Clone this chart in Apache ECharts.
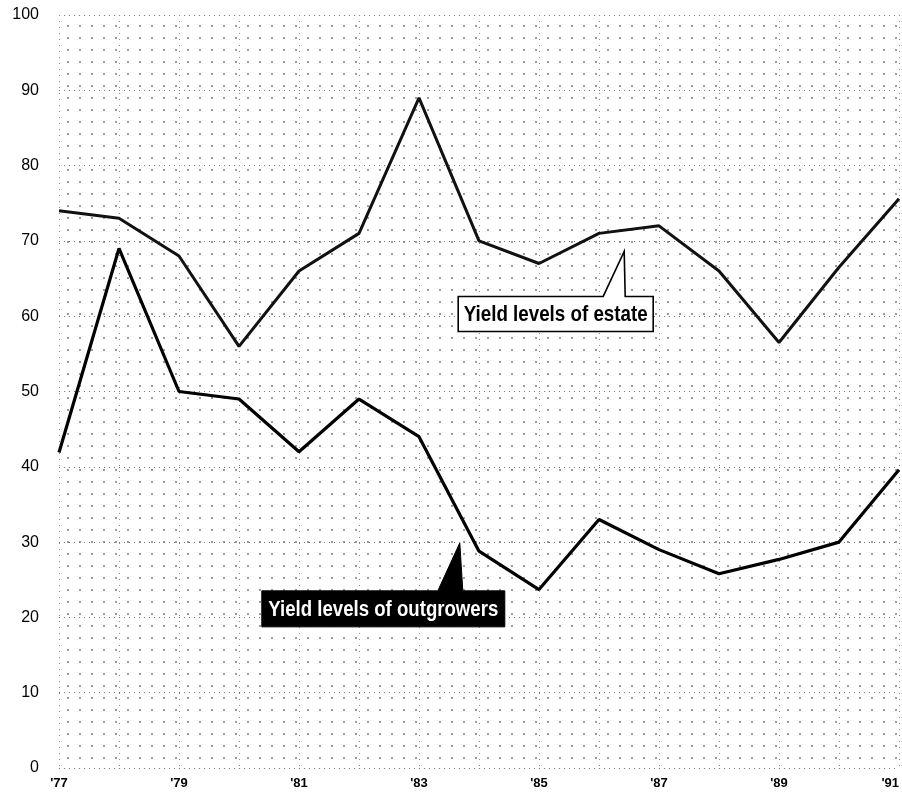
<!DOCTYPE html>
<html>
<head>
<meta charset="utf-8">
<script src="https://cdn.jsdelivr.net/npm/echarts@6/dist/echarts.min.js"></script>
<style>
  html, body { margin: 0; padding: 0; background: #fff; }
  #wrap { position: relative; width: 902px; height: 795px; }
  #dots {
    position: absolute; left: 59px; top: 15px; width: 840px; height: 753px;
    background-image: radial-gradient(circle, rgba(0,0,0,0.4) 0.7px, transparent 1px);
    background-size: 12px 12px;
    background-position: 3px 5px;
  }
  #chart { position: absolute; left: 0; top: 0; width: 902px; height: 795px; }
</style>
</head>
<body>
<div id="wrap">
  <div id="dots"></div>
  <div id="chart"></div>
</div>
<script>
// Years on the horizontal axis
const years = [1977, 1978, 1979, 1980, 1981, 1982, 1983, 1984, 1985, 1986, 1987, 1988, 1989, 1990, 1991];
// Yield levels (estate vs. outgrowers)
const estate =      [74, 73, 68, 56, 66, 71, 89, 70, 67, 71, 72, 66, 56.5, 66.5, 75.6];
const outgrowers =  [41.9, 69, 50, 49, 42, 49, 44, 28.8, 23.7, 33, 29, 25.8, 27.7, 30, 39.6];
// Y-axis ticks
const yTicks = [0, 10, 20, 30, 40, 50, 60, 70, 80, 90, 100];
// Callout labels and where their pointers touch [year, value]
const estateLabel = 'Yield levels of estate';
const outgrowLabel = 'Yield levels of outgrowers';
const estateTip = [1986.42, 68.6];
const outgrowTip = [1983.68, 29.9];

const axisFont = "'Liberation Sans', Arial, sans-serif";

const chart = echarts.init(document.getElementById('chart'), null, { renderer: 'canvas' });

const pairs = arr => years.map((y, i) => [y, arr[i]]);

chart.setOption({
  animation: false,
  backgroundColor: 'transparent',
  grid: { left: 59, right: 3, top: 15, bottom: 27, containLabel: false, outerBoundsMode: 'none' },
  xAxis: {
    type: 'value',
    min: years[0], max: years[years.length - 1], interval: 1,
    axisLine: { show: false }, axisTick: { show: false },
    splitLine: { show: true, lineStyle: { type: [1, 5], color: '#888', width: 1 } },
    axisLabel: {
      margin: 9, alignMaxLabel: 'right',
      fontFamily: axisFont, fontSize: 13, fontWeight: 'bold', color: '#000',
      formatter: v => ((v - years[0]) % 2 === 0 ? "'" + String(v).slice(2) : '')
    }
  },
  yAxis: {
    type: 'value',
    min: yTicks[0], max: yTicks[yTicks.length - 1], interval: 10,
    axisLine: { show: false }, axisTick: { show: false },
    splitLine: { show: true, lineStyle: { type: [1, 4], color: '#777', width: 1 } },
    axisLabel: {
      margin: 20, fontFamily: axisFont, fontSize: 16, color: '#000',
      formatter: v => (yTicks.includes(v) ? String(v) : '')
    }
  },
  series: [
    {
      name: estateLabel, type: 'line', data: pairs(estate),
      symbol: 'none', lineStyle: { color: '#111', width: 3 }, z: 3
    },
    {
      name: outgrowLabel, type: 'line', data: pairs(outgrowers),
      symbol: 'none', lineStyle: { color: '#000', width: 3.2 }, z: 3
    }
  ]
});

// Callout boxes anchored to their pointer tips in data space
const tipE = chart.convertToPixel({ gridIndex: 0 }, estateTip);
const tipO = chart.convertToPixel({ gridIndex: 0 }, outgrowTip);

function calloutPoints(tip, left, right, top, bottom, baseL, baseR) {
  return [
    [left, top], [baseL, top], tip, [baseR, top], [right, top],
    [right, bottom], [left, bottom]
  ];
}

// Squeeze the bold label horizontally so it sets like a condensed face
const labelFont = "bold 22px 'Liberation Sans', Arial, sans-serif";
const measure = document.createElement('canvas').getContext('2d');
measure.font = labelFont;
const squeeze = (text, width) => width / measure.measureText(text).width;

// estate: white box with black outline, pointer opening upward
const eTop = tipE[1] + 45, eBot = eTop + 35;
const eLeft = tipE[0] - 166, eRight = tipE[0] + 29;
// outgrowers: solid black box with a filled pointer
const oTop = tipO[1] + 48, oBot = oTop + 36;
const oLeft = tipO[0] - 198, oRight = tipO[0] + 45;

const eCx = (eLeft + eRight) / 2, eCy = (eTop + eBot) / 2 + 1;
const oCx = (oLeft + oRight) / 2, oCy = (oTop + oBot) / 2 + 1;

chart.setOption({
  graphic: [
    {
      type: 'polygon', z: 10,
      shape: { points: calloutPoints(tipE, eLeft, eRight, eTop, eBot, tipE[0] - 21, tipE[0] + 1) },
      style: { fill: '#fff', stroke: '#000', lineWidth: 1.6 }
    },
    {
      type: 'text', z: 11,
      x: eCx, y: eCy, scaleX: squeeze(estateLabel, 184),
      style: {
        text: estateLabel, fill: '#000', align: 'center', verticalAlign: 'middle',
        font: labelFont
      }
    },
    {
      type: 'polygon', z: 10,
      shape: { points: calloutPoints(tipO, oLeft, oRight, oTop, oBot, tipO[0] - 22, tipO[0] + 3) },
      style: { fill: '#000', stroke: '#000', lineWidth: 1 }
    },
    {
      type: 'text', z: 11,
      x: oCx, y: oCy, scaleX: squeeze(outgrowLabel, 230),
      style: {
        text: outgrowLabel, fill: '#fff', align: 'center', verticalAlign: 'middle',
        font: labelFont
      }
    }
  ]
});
</script>
</body>
</html>
